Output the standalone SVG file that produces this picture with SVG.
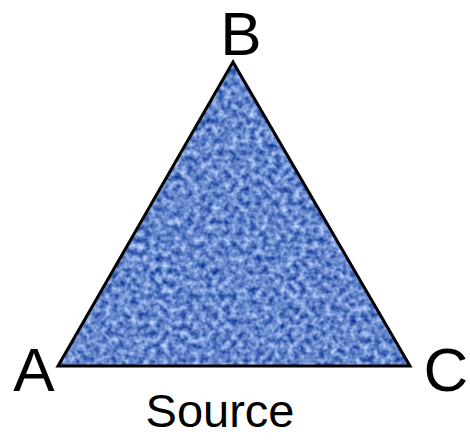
<svg xmlns="http://www.w3.org/2000/svg" width="470" height="444" viewBox="0 0 470 444">
  <style>
    .lbl { font-family: "Liberation Sans", Arial, sans-serif; fill: #000; }
    .vtx { font-size: 62px; }
    .cap { font-size: 47px; }
  </style>
  <defs>
    <filter id="denim" x="0" y="0" width="1" height="1" filterUnits="objectBoundingBox" color-interpolation-filters="sRGB">
      <feTurbulence type="fractalNoise" baseFrequency="0.16 0.16" numOctaves="2" seed="7" result="n"/>
      <feColorMatrix in="n" type="matrix" values="1.0 0 0 0 -0.1  0.9 0 0 0 0.08  0.6 0 0 0 0.5  0 0 0 0 1" result="c"/>
      <feComposite in="c" in2="SourceGraphic" operator="in"/>
    </filter>
  </defs>
  <rect width="470" height="444" fill="#fff"/>
  <g id="triangle">
    <polygon points="233,62 58,366 410,366" fill="#5f82c4" filter="url(#denim)"/>
    <polygon points="233,62 58,366 410,366" fill="none" stroke="#000" stroke-width="3" stroke-linejoin="miter"/>
  </g>
  <g id="label-B"><text class="lbl vtx" x="241" y="55" text-anchor="middle">B</text></g>
  <g id="label-A"><text class="lbl vtx" x="34" y="391" text-anchor="middle">A</text></g>
  <g id="label-C"><text class="lbl vtx" x="446" y="391" text-anchor="middle">C</text></g>
  <g id="label-source"><text class="lbl cap" x="220" y="427" text-anchor="middle">Source</text></g>
</svg>
